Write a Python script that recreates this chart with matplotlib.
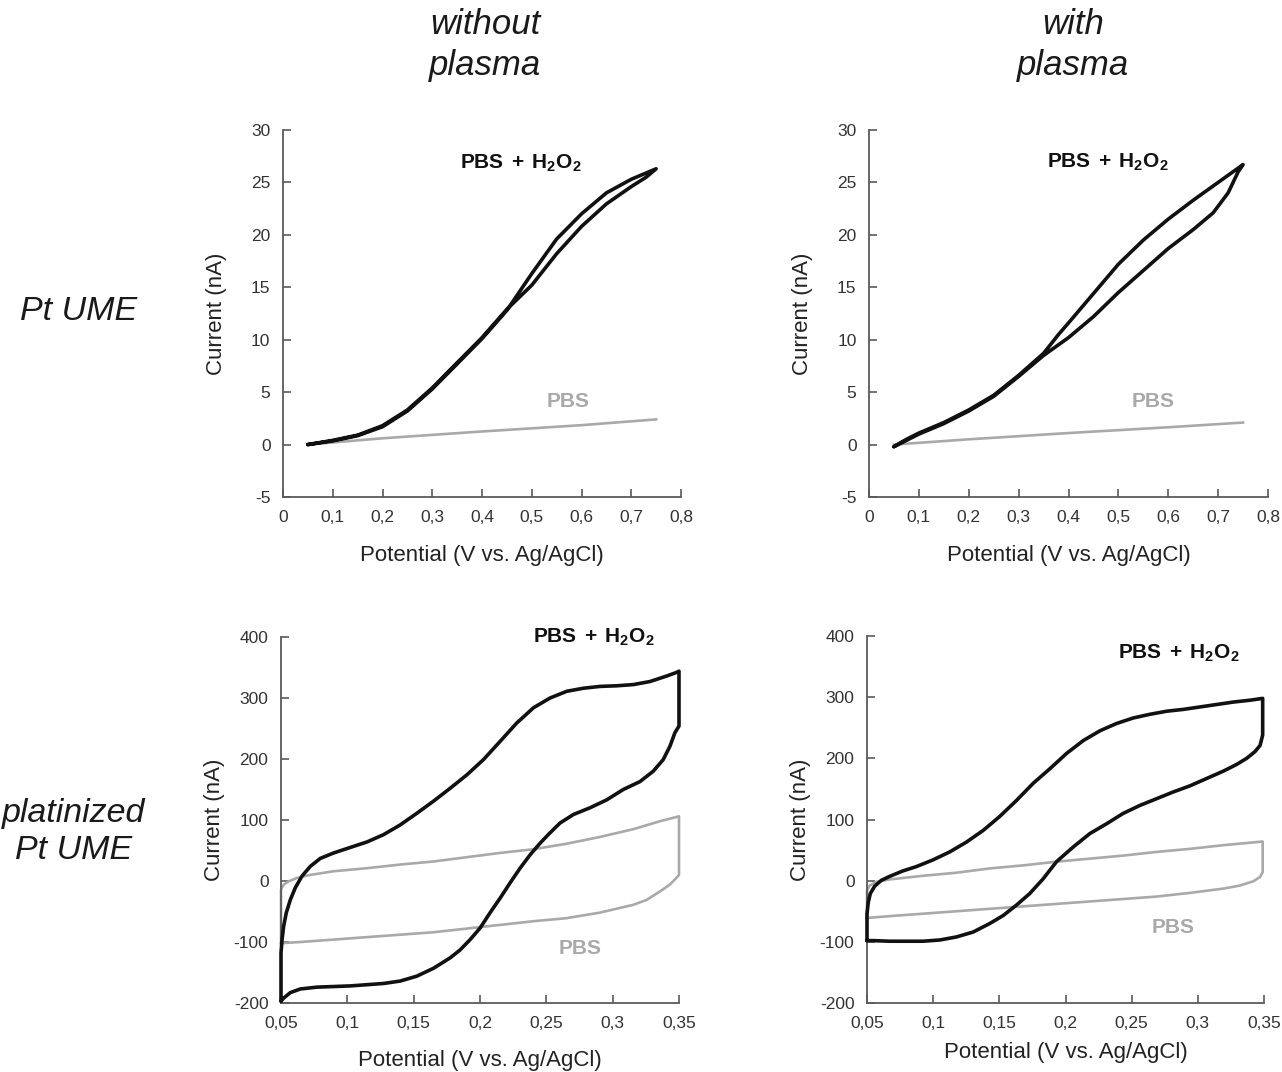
import matplotlib
matplotlib.use("Agg")
import matplotlib.pyplot as plt

plt.rcParams['font.family'] = ['Liberation Sans', 'DejaVu Sans']
plt.rcParams['mathtext.fontset'] = 'custom'
plt.rcParams['mathtext.rm'] = 'Liberation Sans'
plt.rcParams['mathtext.bf'] = 'Liberation Sans:bold'
plt.rcParams['mathtext.it'] = 'Liberation Sans:italic'

# ---------------- data ----------------
col_titles = ["without\nplasma", "with\nplasma"]
row_titles = ["Pt UME", "platinized\nPt UME"]

top_xticks = [0, 0.1, 0.2, 0.3, 0.4, 0.5, 0.6, 0.7, 0.8]
top_xlabels = ["0", "0,1", "0,2", "0,3", "0,4", "0,5", "0,6", "0,7", "0,8"]
top_yticks = [-5, 0, 5, 10, 15, 20, 25, 30]
bot_xticks = [0.05, 0.1, 0.15, 0.2, 0.25, 0.3, 0.35]
bot_xlabels = ["0,05", "0,1", "0,15", "0,2", "0,25", "0,3", "0,35"]
bot_yticks = [-200, -100, 0, 100, 200, 300, 400]

# Pt UME, without plasma
tl_h2o2_E = [0.05, 0.10, 0.15, 0.20, 0.25, 0.30, 0.35, 0.40, 0.45, 0.50, 0.55, 0.60, 0.65, 0.70, 0.73, 0.75,
             0.70, 0.65, 0.60, 0.55, 0.50, 0.48, 0.45, 0.40, 0.35, 0.30, 0.25, 0.20, 0.15, 0.10, 0.05]
tl_h2o2_I = [0.0, 0.4, 0.9, 1.8, 3.3, 5.4, 7.8, 10.2, 12.9, 15.2, 18.2, 20.8, 22.95, 24.6, 25.5, 26.3,
             25.3, 24.0, 22.0, 19.6, 16.3, 14.9, 12.8, 10.1, 7.7, 5.3, 3.2, 1.7, 0.85, 0.35, 0.0]
tl_pbs_E = [0.05, 0.2, 0.4, 0.6, 0.75]
tl_pbs_I = [0.0, 0.6, 1.25, 1.85, 2.4]

# Pt UME, with plasma
tr_h2o2_E = [0.05, 0.075, 0.10, 0.15, 0.20, 0.25, 0.30, 0.35, 0.40, 0.45, 0.50, 0.55, 0.60, 0.65, 0.69, 0.72, 0.74, 0.75,
             0.70, 0.65, 0.60, 0.55, 0.50, 0.45, 0.40, 0.38, 0.35, 0.30, 0.25, 0.20, 0.15, 0.10, 0.075, 0.05]
tr_h2o2_I = [-0.2, 0.4, 1.0, 2.0, 3.2, 4.6, 6.5, 8.5, 10.2, 12.2, 14.5, 16.6, 18.7, 20.5, 22.1, 24.0, 26.0, 26.7,
             25.0, 23.3, 21.5, 19.5, 17.2, 14.4, 11.6, 10.5, 8.7, 6.6, 4.7, 3.3, 2.1, 1.1, 0.5, -0.2]
tr_pbs_E = [0.05, 0.2, 0.4, 0.6, 0.75]
tr_pbs_I = [0.0, 0.5, 1.1, 1.65, 2.1]

# platinized Pt UME, without plasma
bl_h2o2_E = [0.05, 0.05, 0.0508, 0.052, 0.054, 0.057, 0.0608, 0.0658, 0.0721, 0.0796, 0.0897, 0.1022, 0.1148,
             0.1273, 0.1399, 0.1524, 0.165, 0.1775, 0.1901, 0.2026, 0.2152, 0.2277, 0.2403, 0.2528, 0.2654,
             0.2779, 0.2905, 0.303, 0.3156, 0.3281, 0.3407, 0.3482, 0.35, 0.35,
             0.3469, 0.3432, 0.3381, 0.3306, 0.3206, 0.308, 0.2955, 0.2829, 0.2704, 0.2603, 0.2528, 0.2453,
             0.2378, 0.2302, 0.2227, 0.2152, 0.2076, 0.2001, 0.1926, 0.185, 0.1775, 0.165, 0.1524, 0.1399,
             0.1273, 0.1148, 0.1022, 0.0897, 0.0771, 0.0646, 0.057, 0.052, 0.05]
bl_h2o2_I = [-197, -118, -96, -74, -52, -31, -11, 8, 24, 37, 46, 55, 64,
             76, 92, 111, 131, 152, 174, 199, 229, 259, 284, 300, 311,
             316, 319, 320, 322, 327, 336, 342, 344, 254,
             243, 221, 199, 180, 163, 150, 133, 120, 109, 95, 79, 62,
             43, 21, -3, -28, -52, -77, -96, -113, -126, -143, -156, -164,
             -168, -170, -172, -173, -174, -177, -183, -192, -197]
bl_pbs_E = [0.05, 0.05, 0.052, 0.0558, 0.062, 0.072, 0.0897, 0.1148, 0.14, 0.165, 0.19, 0.215, 0.24, 0.265,
            0.29, 0.3156, 0.3357, 0.35, 0.35,
            0.348, 0.343, 0.3357, 0.3256, 0.3156, 0.29, 0.265, 0.24, 0.215, 0.19, 0.165, 0.14, 0.1148,
            0.09, 0.0646, 0.05]
bl_pbs_I = [-102, -14, -6, -0.5, 5, 10, 16, 21, 27, 32, 39, 46, 52, 61,
            72, 85, 98, 106, 10,
            5, -6, -17, -31, -39, -52, -61, -66, -72, -78, -84, -88, -92,
            -96, -100, -102]

# platinized Pt UME, with plasma
br_h2o2_E = [0.05, 0.05, 0.051, 0.0525, 0.0558, 0.0608, 0.0671, 0.0772, 0.0873, 0.0999, 0.1125, 0.1251,
             0.1377, 0.1503, 0.1629, 0.1755, 0.1882, 0.2008, 0.2134, 0.226, 0.2386, 0.2512, 0.2638, 0.2764,
             0.289, 0.3016, 0.3142, 0.3268, 0.3394, 0.349, 0.349,
             0.347, 0.3432, 0.3369, 0.3293, 0.3192, 0.3066, 0.294, 0.2814, 0.2688, 0.2562, 0.2436, 0.231,
             0.2184, 0.2058, 0.1932, 0.1831, 0.173, 0.1629, 0.1529, 0.1428, 0.1302, 0.1176, 0.105, 0.0924,
             0.0797, 0.0671, 0.0545, 0.05]
br_h2o2_I = [-98, -54, -35, -21, -9, 0.5, 7, 16, 23, 34, 47, 63,
             82, 105, 131, 159, 183, 208, 229, 245, 257, 266, 272, 277,
             280, 284, 288, 292, 295, 298, 238,
             221, 211, 200, 190, 179, 167, 155, 145, 134, 123, 110, 93,
             77, 55, 31, 3, -21, -40, -57, -70, -84, -92, -97, -99,
             -99, -99, -98, -98]
br_pbs_E = [0.05, 0.05, 0.052, 0.057, 0.067, 0.0924, 0.1176, 0.1428, 0.168, 0.1932, 0.2184, 0.2436, 0.2688,
            0.294, 0.3192, 0.349, 0.349,
            0.347, 0.3419, 0.3318, 0.3192, 0.294, 0.2688, 0.2436, 0.2184, 0.1932, 0.168, 0.1428, 0.1176,
            0.0924, 0.0671, 0.05]
br_pbs_I = [-61, -16, -8, -2, 2, 8, 13, 20, 25, 31, 36, 41, 47,
            52, 58, 64, 14,
            6, -1, -8, -13, -20, -26, -30, -34, -38, -42, -46, -50,
            -54, -58, -61]

h2o2_label = r'$\mathbf{PBS\;+\;H_2O_2}$'
pbs_label = "PBS"

# ---------------- figure ----------------
W, H = 1282, 1072
fig = plt.figure(figsize=(W / 100, H / 100), dpi=100)

def px_axes(x0, y0, x1, y1):
    return fig.add_axes([x0 / W, 1 - y1 / H, (x1 - x0) / W, (y1 - y0) / H])

ax_tl = px_axes(283, 130, 681, 497)
ax_tr = px_axes(869, 130, 1268, 497)
ax_bl = px_axes(281, 637, 679, 1003)
ax_br = px_axes(867, 636, 1264, 1003)

spine_col = '#5a5a5a'
tick_col = '#333333'
black = '#111111'
gray = '#a9a9a9'

def style(ax, xt, xl, yt, xlim, ylim, xlab_y):
    ax.set_xlim(*xlim)
    ax.set_ylim(*ylim)
    for s in ['top', 'right']:
        ax.spines[s].set_visible(False)
    for s in ['left', 'bottom']:
        ax.spines[s].set_color(spine_col)
        ax.spines[s].set_linewidth(1.3)
    ax.set_xticks(xt)
    ax.set_xticklabels(xl)
    ax.set_yticks(yt)
    ax.set_yticklabels([str(v) for v in yt])
    ax.tick_params(direction='in', length=6, width=1.2, color=spine_col,
                   labelsize=12.5, labelcolor=tick_col, pad=9)
    ax.set_xlabel("Potential (V vs. Ag/AgCl)", fontsize=16, color='#222222')
    ax.set_ylabel("Current (nA)", fontsize=16, color='#222222')
    ax.xaxis.set_label_coords(0.5, xlab_y)
    ax.yaxis.set_label_coords(-0.14, 0.5)

style(ax_tl, top_xticks, top_xlabels, top_yticks, (0, 0.8), (-5, 30), -0.131)
style(ax_tr, top_xticks, top_xlabels, top_yticks, (0, 0.8), (-5, 30), -0.131)
style(ax_bl, bot_xticks, bot_xlabels, bot_yticks, (0.05, 0.35), (-200, 400), -0.128)
style(ax_br, bot_xticks, bot_xlabels, bot_yticks, (0.05, 0.35), (-200, 400), -0.106)

lw_b, lw_g = 2.6, 1.9
for ax, pE, pI, hE, hI in [
    (ax_tl, tl_pbs_E, tl_pbs_I, tl_h2o2_E, tl_h2o2_I),
    (ax_tr, tr_pbs_E, tr_pbs_I, tr_h2o2_E, tr_h2o2_I),
    (ax_bl, bl_pbs_E, bl_pbs_I, bl_h2o2_E, bl_h2o2_I),
    (ax_br, br_pbs_E, br_pbs_I, br_h2o2_E, br_h2o2_I),
]:
    ax.plot(pE, pI, color=gray, lw=lw_g, solid_joinstyle='round', clip_on=False, zorder=2)
    ax.plot(hE, hI, color=black, lw=lw_b, solid_joinstyle='round', solid_capstyle='round',
            clip_on=False, zorder=3)

# annotations
ax_tl.text(0.355, 26.8, h2o2_label, fontsize=15, color=black, ha='left', va='center')
ax_tr.text(0.356, 26.9, h2o2_label, fontsize=15, color=black, ha='left', va='center')
ax_bl.text(0.240, 400, h2o2_label, fontsize=15, color=black, ha='left', va='center', clip_on=False)
ax_br.text(0.240, 372, h2o2_label, fontsize=15, color=black, ha='left', va='center')

ax_tl.text(0.5735, 4.1, pbs_label, fontsize=15, fontweight='bold', color=gray, ha='center', va='center')
ax_tr.text(0.5695, 4.1, pbs_label, fontsize=15, fontweight='bold', color=gray, ha='center', va='center')
ax_bl.text(0.2754, -110, pbs_label, fontsize=15, fontweight='bold', color=gray, ha='center', va='center')
ax_br.text(0.2815, -76, pbs_label, fontsize=15, fontweight='bold', color=gray, ha='center', va='center')

# column and row headers
fig.text(485 / W, 1 - 45 / H, col_titles[0], fontsize=25, style='italic', ha='center', va='center',
         color='#1a1a1a', linespacing=1.27)
fig.text(1073 / W, 1 - 45 / H, col_titles[1], fontsize=25, style='italic', ha='center', va='center',
         color='#1a1a1a', linespacing=1.27)
fig.text(79 / W, 1 - 311 / H, row_titles[0], fontsize=24.5, style='italic', ha='center', va='center',
         color='#1a1a1a')
fig.text(74 / W, 1 - 832 / H, row_titles[1], fontsize=24.5, style='italic', ha='center', va='center',
         color='#1a1a1a', linespacing=1.28, multialignment='center')

fig.savefig("out.png", dpi=100, facecolor='white')
